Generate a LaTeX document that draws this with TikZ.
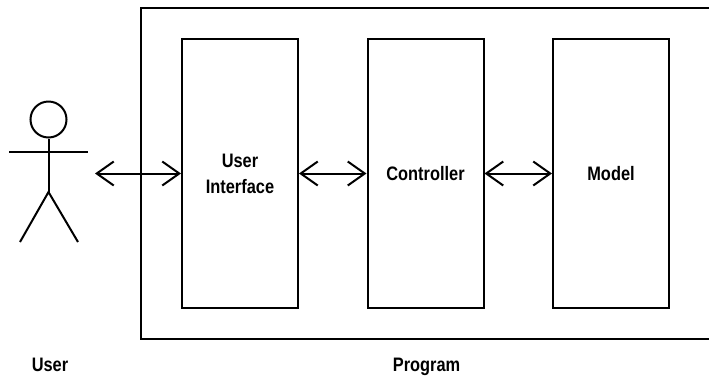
\documentclass[tikz,border=0pt]{standalone}
\usepackage{fontspec}
\setmainfont{Liberation Sans}[FakeStretch=0.84]
\usetikzlibrary{arrows.meta}

\begin{document}
\begin{tikzpicture}[x=1pt,y=-1pt,line width=2pt]%
  \tikzstyle{part}=[rectangle,draw,line width=2pt,minimum width=116pt,minimum height=269pt,align=center,inner sep=0]
  \tikzstyle{link}=[line width=2pt,{Straight Barb[length=17pt,width=24pt]}-{Straight Barb[length=17pt,width=24pt]}]
  \tikzstyle{lbl}=[inner sep=0,anchor=base]
  \useasboundingbox (0,0) rectangle (709,376);
  \fontsize{19.5}{26}\selectfont\bfseries
  % program frame, open at the right
  \draw (709,8) -| (141,339) -- (709,339);
  \node(ui)[part] at (240,173.5) {User\\Interface};
  \node(ctl)[part] at (425.5,173.5) {Controller};
  \node(mdl)[part] at (611,173.5) {Model};
  % stick figure
  \node(head)[circle,draw,minimum size=36pt,inner sep=0] at (48.5,119.5) {};
  \coordinate(hip) at (48.5,192);
  \draw (head.south) -- (hip);
  \draw (9,152) -- (88,152);
  \draw (20,242) -- (hip) -- (78,242);
  \coordinate(hand) at (95,173.5);
  \draw[link] (hand) -- (ui.west);
  \draw[link] (ui.east) -- (ctl.west);
  \draw[link] (ctl.east) -- (mdl.west);
  \node(user)[lbl] at (50,371) {User};
  \node(prog)[lbl] at (426.5,371) {Program};
\end{tikzpicture}
\end{document}
